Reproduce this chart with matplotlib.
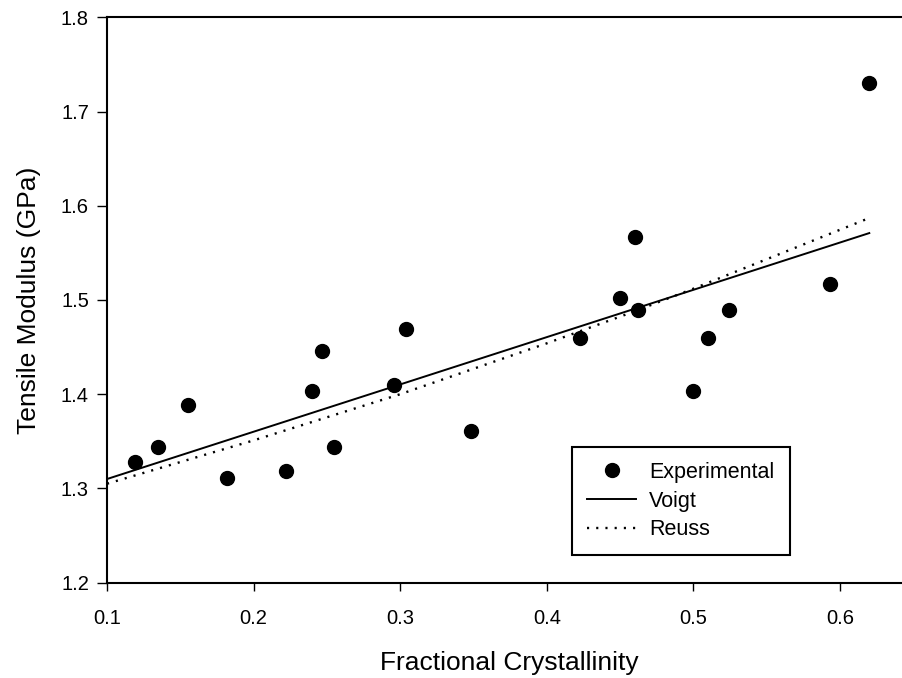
import matplotlib
matplotlib.use("Agg")
import matplotlib.pyplot as plt

plt.rcParams['font.family'] = ['Liberation Sans', 'DejaVu Sans']

# Experimental data (fractional crystallinity, tensile modulus GPa)
exp_x = [0.119, 0.135, 0.155, 0.182, 0.222, 0.240, 0.247, 0.255, 0.296, 0.304,
         0.348, 0.423, 0.450, 0.460, 0.462, 0.500, 0.510, 0.524, 0.593, 0.620]
exp_y = [1.328, 1.344, 1.389, 1.311, 1.319, 1.403, 1.446, 1.344, 1.410, 1.469,
         1.361, 1.460, 1.502, 1.567, 1.489, 1.403, 1.460, 1.489, 1.517, 1.730]

# Voigt model line (read endpoints)
voigt_x = [0.100, 0.620]
voigt_y = [1.310, 1.571]

# Reuss model curve (read points)
reuss_x = [0.100, 0.200, 0.300, 0.400, 0.460, 0.500, 0.620]
reuss_y = [1.305, 1.351, 1.400, 1.454, 1.488, 1.512, 1.587]

xticks = [0.1, 0.2, 0.3, 0.4, 0.5, 0.6]
yticks = [1.2, 1.3, 1.4, 1.5, 1.6, 1.7, 1.8]

fig = plt.figure(figsize=(9.03, 6.78), dpi=100)
ax = fig.add_axes([0.1185, 0.1406, 0.8815, 0.8339])

ax.plot(voigt_x, voigt_y, color='black', lw=1.4, label='Voigt', zorder=2)
ax.plot(reuss_x, reuss_y, color='black', lw=1.7, linestyle=(0, (0.9, 3.0)),
        label='Reuss', zorder=2)
ax.plot(exp_x, exp_y, linestyle='none', marker='o', markersize=10,
        color='black', label='Experimental', zorder=3)

ax.set_xlim(0.1, 0.643)
ax.set_ylim(1.2, 1.8)
ax.set_xticks(xticks)
ax.set_yticks(yticks)
ax.set_xticklabels([f"{v:.1f}" for v in xticks])
ax.set_yticklabels([f"{v:.1f}" for v in yticks])

for s in ['left', 'bottom', 'top']:
    ax.spines[s].set_linewidth(1.5)
ax.spines['right'].set_visible(False)

ax.tick_params(axis='both', direction='out', width=1.0, labelsize=14.5)
ax.tick_params(axis='y', length=7, pad=6)
ax.tick_params(axis='x', length=6, pad=13)

ax.set_xlabel('Fractional Crystallinity', fontsize=19)
ax.set_ylabel('Tensile Modulus (GPa)', fontsize=19)
ax.xaxis.set_label_coords(0.505, -0.121)
ax.yaxis.set_label_coords(-0.083, 0.5)

handles, labels = ax.get_legend_handles_labels()
order = [2, 0, 1]
leg = ax.legend([handles[i] for i in order], [labels[i] for i in order],
                loc='upper left', bbox_to_anchor=(0.5838, 0.2405),
                fontsize=15.5, frameon=True, fancybox=False, shadow=False,
                borderpad=0.7, labelspacing=0.36, handlelength=2.3,
                handletextpad=0.6, borderaxespad=0, numpoints=1)
leg.get_frame().set_edgecolor('black')
leg.get_frame().set_linewidth(1.5)
leg.get_frame().set_alpha(1)

fig.savefig('out.png', dpi=100)
